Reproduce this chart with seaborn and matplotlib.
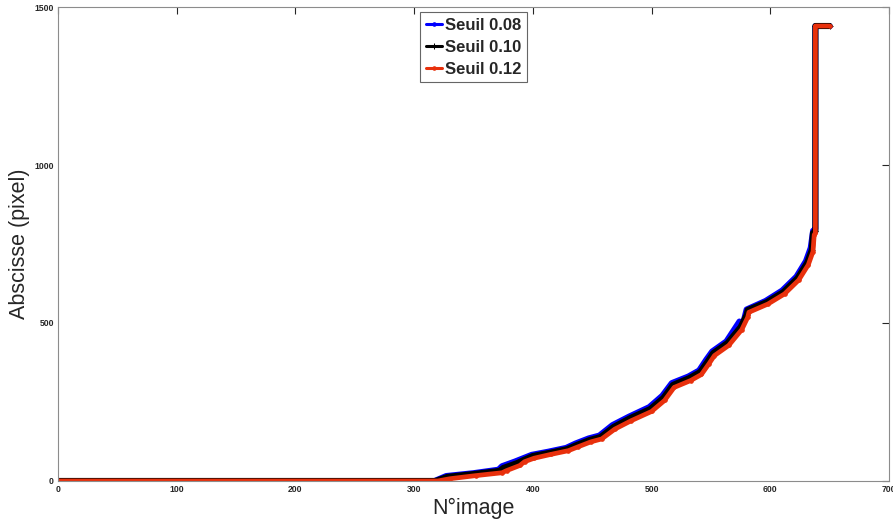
import numpy as np
import pandas as pd
import matplotlib
matplotlib.use("Agg")
import matplotlib.pyplot as plt
import seaborn as sns

# values (image index -> abscissa in pixels)
x_008 = [0, 317, 327, 350, 371, 374, 385, 391, 399, 413, 428, 436, 447, 456, 467, 481, 498, 509, 517, 531, 540, 546, 551, 563, 574, 577, 580, 596, 610, 622, 630, 634, 636, 638, 638, 650]
y_008 = [0, 0, 16, 25, 36, 47, 62, 71, 83, 93, 105, 119, 135, 144, 177, 204, 234, 270, 310, 331, 350, 384, 410, 442, 505, 498, 543, 570, 603, 647, 696, 738, 792, 798, 1440, 1440]

x_010 = [0, 318, 328, 350, 372, 375, 387, 392, 400, 414, 429, 437, 448, 457, 468, 482, 499, 510, 518, 532, 541, 547, 552, 564, 575, 580, 581, 597, 611, 623, 631, 635, 636, 638, 638, 650]
y_010 = [0, 0, 13, 22, 32, 41, 57, 66, 79, 89, 101, 114, 130, 139, 171, 199, 228, 263, 304, 326, 345, 377, 405, 437, 487, 525, 541, 566, 598, 642, 690, 731, 785, 790, 1440, 1440]

x_012 = [0, 320, 330, 352, 374, 378, 389, 393, 401, 415, 430, 438, 449, 458, 469, 483, 500, 511, 519, 533, 542, 548, 553, 565, 576, 581, 582, 598, 612, 624, 632, 636, 637, 638, 638, 650]
y_012 = [0, 0, 7, 17, 26, 33, 49, 61, 72, 84, 96, 108, 124, 133, 164, 191, 220, 255, 296, 318, 337, 369, 397, 429, 479, 518, 534, 560, 592, 636, 684, 726, 779, 785, 1440, 1440]

labels = ["Seuil 0.08", "Seuil 0.10", "Seuil 0.12"]
colors = ["#0000ff", "#000000", "#e8300c"]

df = pd.concat([
    pd.DataFrame({"image": x_008, "abscisse": y_008, "seuil": labels[0]}),
    pd.DataFrame({"image": x_010, "abscisse": y_010, "seuil": labels[1]}),
    pd.DataFrame({"image": x_012, "abscisse": y_012, "seuil": labels[2]}),
])

sns.set_style("white")
plt.rcParams["font.family"] = ["Liberation Sans", "DejaVu Sans"]

fig = plt.figure(figsize=(8.93, 5.26), dpi=100)
ax = fig.add_axes([0.065, 0.0856, 0.9305, 0.901])

widths = [4.2, 4.4, 3.4]
markers = [".", "+", "."]
for lab, col, lw, mk in zip(labels, colors, widths, markers):
    sub = df[df["seuil"] == lab]
    sns.lineplot(data=sub, x="image", y="abscisse", ax=ax, color=col,
                 linewidth=lw, estimator=None, sort=False, label=lab,
                 marker=mk, markersize=5, markeredgecolor=col)

ax.set_xlim(0, 700)
ax.set_ylim(0, 1500)
ax.set_xticks(range(0, 701, 100))
ax.set_yticks([0, 500, 1000, 1500])
ax.tick_params(direction="in", length=5, width=0.8, top=True, right=True,
               labelsize=6.2, colors="#262626", pad=3)
for t in ax.get_xticklabels() + ax.get_yticklabels():
    t.set_fontweight("bold")
for s in ax.spines.values():
    s.set_color("#8c8c8c")
    s.set_linewidth(0.8)

ax.set_xlabel("N°image", fontsize=15.5, labelpad=3)
ax.set_ylabel("Abscisse (pixel)", fontsize=15.5, labelpad=3)

leg = ax.legend(loc="upper center", bbox_to_anchor=(0.5, 0.997),
                prop={"weight": "bold", "size": 12}, frameon=True,
                fancybox=False, edgecolor="#404040", handlelength=1.0,
                handletextpad=0.15, borderpad=0.35, labelspacing=0.42,
                borderaxespad=0.2)
leg.get_frame().set_linewidth(0.8)
for h in leg.get_lines():
    h.set_linewidth(2.2)
    h.set_markersize(5)

fig.savefig("out.png", dpi=100)
